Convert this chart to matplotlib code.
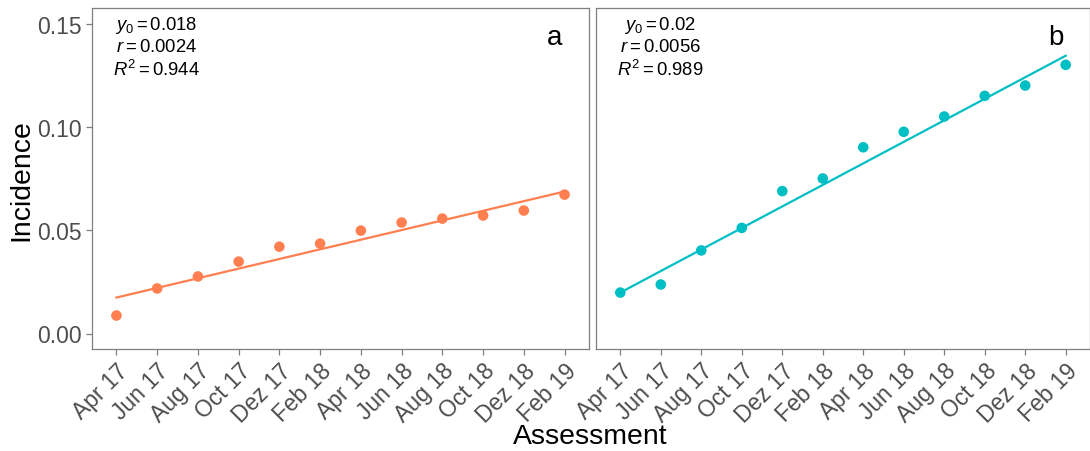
import numpy as np
import matplotlib
matplotlib.use("Agg")
import matplotlib.pyplot as plt

plt.rcParams["font.family"] = ["Liberation Sans", "DejaVu Sans"]
plt.rcParams["mathtext.fontset"] = "custom"
plt.rcParams["mathtext.rm"] = "Liberation Sans"
plt.rcParams["mathtext.it"] = "Liberation Sans:italic"

# ── data ──────────────────────────────────────────────────────────────────────
assessments = ["Apr 17", "Jun 17", "Aug 17", "Oct 17", "Dez 17", "Feb 18",
               "Apr 18", "Jun 18", "Aug 18", "Oct 18", "Dez 18", "Feb 19"]

incid_a = [0.0087, 0.0218, 0.0276, 0.0348, 0.0420, 0.0435,
           0.0498, 0.0537, 0.0556, 0.0571, 0.0595, 0.0672]
incid_b = [0.0198, 0.0237, 0.0402, 0.0511, 0.0689, 0.0750,
           0.0901, 0.0976, 0.1050, 0.1150, 0.1200, 0.1300]

# fitted line, value at first and last assessment
fit_a = [0.0174, 0.0687]
fit_b = [0.0198, 0.1344]

stats_a = [r"$y_0 = 0.018$", r"$r = 0.0024$", r"$R^2 = 0.944$"]
stats_b = [r"$y_0 = 0.02$", r"$r = 0.0056$", r"$R^2 = 0.989$"]

colors = ["#FF7F50", "#00BFC4"]
panels = ["a", "b"]

# ── figure ────────────────────────────────────────────────────────────────────
W, H = 1090, 452
fig = plt.figure(figsize=(W / 100, H / 100), dpi=100)
ax_a = fig.add_axes([92 / W, 1 - 350 / H, 497 / W, 341 / H])
ax_b = fig.add_axes([596 / W, 1 - 350 / H, 494 / W, 341 / H])

x = np.arange(len(assessments))
for ax, y, fit, stats, col, lab in zip([ax_a, ax_b], [incid_a, incid_b],
                                       [fit_a, fit_b], [stats_a, stats_b],
                                       colors, panels):
    ax.plot([x[0], x[-1]], fit, color=col, lw=1.6, zorder=2)
    ax.scatter(x, y, s=58, color=col, edgecolors="none", zorder=3)

    ax.set_xlim(-0.6, len(assessments) - 0.4)
    ax.set_ylim(-0.0075, 0.1575)
    ax.set_yticks([0.0, 0.05, 0.10, 0.15])
    ax.set_xticks(x)
    ax.set_xticklabels(assessments, rotation=45, ha="right", va="top",
                       rotation_mode="anchor")
    for s in ax.spines.values():
        s.set_color("#7f7f7f")
        s.set_linewidth(0.9)
    ax.tick_params(colors="#4d4d4d", labelsize=16.5, length=4, width=0.9,
                   color="#7f7f7f")
    ax.tick_params(axis="x", pad=3)

    # fit statistics
    x_txt = 0.13
    for i, t in enumerate(stats):
        ax.text(x_txt, 0.952 - i * 0.066, t, transform=ax.transAxes,
                ha="center", va="center", fontsize=13.3, color="black")
    ax.text(0.93, 0.915, lab, transform=ax.transAxes, ha="center",
            va="center", fontsize=20, color="black")

ax_a.set_yticklabels(["0.00", "0.05", "0.10", "0.15"])
ax_b.tick_params(axis="y", left=False, labelleft=False)

fig.text(21 / W, 1 - 180 / H, "Incidence", rotation=90, ha="center",
         va="center", fontsize=20.4)
fig.text(590 / W, 1 - 437 / H, "Assessment", ha="center", va="center",
         fontsize=20.4)

fig.savefig("out.png", dpi=100, facecolor="white")
